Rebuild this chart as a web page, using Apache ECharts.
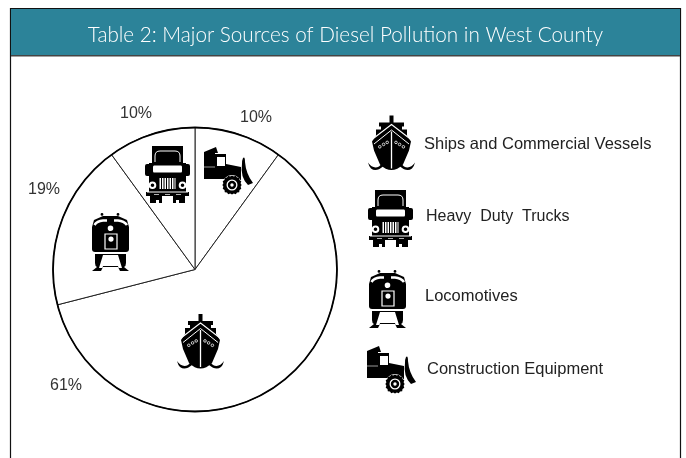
<!DOCTYPE html>
<html>
<head>
<meta charset="utf-8">
<title>Table 2</title>
<script src="https://cdn.jsdelivr.net/npm/echarts@6/dist/echarts.min.js"></script>
<style>
  html, body { margin: 0; padding: 0; background: #fff; }
  #chart { width: 686px; height: 458px; }
</style>
</head>
<body>
<div id="chart"></div>
<script>
const titleText = 'Table 2: Major Sources of Diesel Pollution in West County'
// clockwise from 12 o'clock
const categories = ['Construction Equipment', 'Ships and Commercial Vessels', 'Locomotives', 'Heavy Duty Trucks']
const shares = [10, 61, 19, 10]
const labelSpots = [[256, 118], [66, 386], [44, 190], [136, 114]]

// icon drawings, local px: [path, fill, stroke, strokeWidth]
const W = '#fff', K = '#000'
const shipIcon = [
  ['M21.5 0H25.5V7H36V11H34V14H39V20L43 26L41 35L35 49Q23.5 60 12 49L6 35L4 26L8 20V14H13V11H11V7H21.5Z', K],
  ['M0 47Q5 54 11 51L14 48L15 51Q8 57 3 53Q1 51 0 47ZM47 47Q42 54 36 51L33 48L32 51Q39 57 44 53Q46 51 47 47Z', K],
  ['M4 24L23.5 9L43 24', null, W, 1.1],
  ['M6 28.5L23.5 14.5L41 28.5', null, W, 1],
  ['M23.5 16V53', null, W, 1.3],
  ['M11.8 30a1.3 1.3 0 1 1 -0.01 0M15.6 27.6a1.3 1.3 0 1 1 -0.01 0M19.2 25.6a1.3 1.3 0 1 1 -0.01 0M28 25.6a1.3 1.3 0 1 1 -0.01 0M31.6 27.6a1.3 1.3 0 1 1 -0.01 0M35.4 30a1.3 1.3 0 1 1 -0.01 0', null, W, 0.8]
]
const truckIcon = [
  ['M7 0H38V17H41V46H44V50H40V57H34V54H31V57H28V50H17V57H14V54H11V57H5V50H1V46H4V17H7Z', K],
  ['M0 20Q0 18 2 18H4V30H2Q0 30 0 28ZM45 20Q45 18 43 18H41V30H43Q45 30 45 28Z', K],
  ['M10 16V10Q10 5 15 5H30Q35 5 35 10V16', null, W, 1],
  ['M9 19.5H36Q37 19.5 37 21V25Q37 26.5 36 26.5H9Q8 26.5 8 25V21Q8 19.5 9 19.5Z', W],
  ['M14.5 32H30.5V43H14.5Z', W],
  ['M16.5 32V43M19 32V43M21.5 32V43M24 32V43M26.5 32V43M29 32V43', null, K, 1],
  ['M7.5 35.5a3.8 3.8 0 1 1 -0.01 0M37.5 35.5a3.8 3.8 0 1 1 -0.01 0', W],
  ['M7.5 37.5a1.8 1.8 0 1 1 -0.01 0M37.5 37.5a1.8 1.8 0 1 1 -0.01 0', K],
  ['M2 46H43', null, W, 1],
  ['M9 48.5H14M20 48.5H25M31 48.5H36', null, W, 0.7]
]
const locoIcon = [
  ['M10 0a1.4 1.4 0 1 1 -0.01 0M26 0a1.4 1.4 0 1 1 -0.01 0', K],
  ['M11 3H26L35 7L37 14V36Q37 39 34 39H3Q0 39 0 36V14L2 7Z', K],
  ['M2.5 12Q5 8 11 7.5H15M35 12Q32 8 26 7.5H22', null, W, 2.6],
  ['M13 21H25V36H13Z', null, W, 1.2],
  ['M18.5 12.5a2.8 2.8 0 1 1 -0.01 0M19 23.5a2.6 2.6 0 1 1 -0.01 0', W],
  ['M3 41H34V50Q34 53 32 54L37 58H28L26 54H11L9 58H0L5 54Q3 53 3 50Z', K],
  ['M11 42H26L30 55H26.5L26 53H11L10.5 55H7Z', W]
]
const plowIcon = [
  ['M0 5L12 0L14 6H11V32H0Z', K],
  ['M11 7H22V17L37 20V33H22V32H11Z', K],
  ['M13 10H21V19H13Z', W],
  ['M0 20H11', null, '#999', 1],
  ['M39 11Q41 9 41 15Q42 27 49 36L44 38Q36 30 38 17Q38 13 39 11Z', K],
  ['M28 28a10 10 0 1 1 -0.01 0', W],
  ['M28 28.5l1.8 1l2-0.7l1.2 1.8l2.2 0.2l0.3 2.2l1.8 1.2l-0.7 2l1 1.8l-1 1.8l0.7 2l-1.8 1.2l-0.3 2.2l-2.2 0.2l-1.2 1.8l-2 -0.7l-1.8 1l-1.8 -1l-2 0.7l-1.2 -1.8l-2.2 -0.2l-0.3 -2.2l-1.8 -1.2l0.7 -2l-1 -1.8l1 -1.8l-0.7 -2l1.8 -1.2l0.3 -2.2l2.2 -0.2l1.2 -1.8l2 0.7Z', K],
  ['M28 32.5a5.5 5.5 0 1 1 -0.01 0', W],
  ['M28 33.8a4.2 4.2 0 1 1 -0.01 0', K],
  ['M28 36.3a1.7 1.7 0 1 1 -0.01 0', W]
]

// echarts has no plain "path" graphic, so each icon part becomes a registered shape
let shapeCount = 0
function drawIcon(parts, x, y) {
  return {
    type: 'group', x: x, y: y, silent: true,
    children: parts.map(function (p) {
      const name = 'iconPart' + (shapeCount++)
      echarts.graphic.registerShape(name, echarts.graphic.extendPath(p[0], {}))
      return {
        type: name,
        z: 20,
        style: { fill: p[1] || 'none', stroke: p[2] || 'none', lineWidth: p[3] || 0 }
      }
    })
  }
}

function legendText(text, x, y, size) {
  return {
    type: 'text', x: x, y: y, z: 20,
    style: {
      text: text, fill: '#222', fontFamily: '"Liberation Sans", Arial, sans-serif', fontSize: size || 16.5,
      verticalAlign: 'middle', textAlign: 'left'
    }
  }
}

const myChart = echarts.init(document.getElementById('chart'))
myChart.setOption({
  animation: false,
  backgroundColor: '#fff',
  title: {
    text: titleText,
    left: 340.5,
    top: 30,
    textAlign: 'center',
    textVerticalAlign: 'middle',
    textStyle: { color: '#fff', fontFamily: 'Lato', fontWeight: 300, fontSize: 20.7 }
  },
  series: [{
    type: 'pie',
    center: [195, 269.5],
    radius: [0, 142],
    startAngle: 90,
    clockwise: true,
    silent: true,
    avoidLabelOverlap: false,
    itemStyle: { color: '#fff', borderColor: '#222', borderWidth: 1 },
    label: {
      show: true,
      formatter: '{c}%',
      color: '#333',
      fontFamily: '"Liberation Sans", Arial, sans-serif',
      fontSize: 16
    },
    labelLine: { show: false },
    labelLayout: function (params) {
      const spot = labelSpots[params.dataIndex]
      return { x: spot[0], y: spot[1], align: 'center', verticalAlign: 'middle', hideOverlap: false }
    },
    emphasis: { disabled: true },
    data: categories.map(function (name, i) {
      return { name: name, value: shares[i] }
    })
  }],
  graphic: { elements: [
    // panel + header band
    { type: 'rect', z: -2, shape: { x: 10.5, y: 8.5, width: 670, height: 470 }, style: { fill: '#fff', stroke: '#111', lineWidth: 1.2 } },
    { type: 'rect', z: -1, shape: { x: 11, y: 9, width: 669, height: 46 }, style: { fill: '#2c8399' } },
    { type: 'rect', z: -1, shape: { x: 11, y: 55, width: 669, height: 1.5 }, style: { fill: '#444' } },
    // heavier pie rim
    { type: 'circle', z: 10, silent: true, shape: { cx: 195, cy: 269.5, r: 142 }, style: { fill: 'none', stroke: '#000', lineWidth: 1.8 } },
    // icons in the slices
    drawIcon(plowIcon, 204, 147),
    drawIcon(truckIcon, 145, 146),
    drawIcon(locoIcon, 92, 213),
    drawIcon(shipIcon, 177, 314),
    // legend
    drawIcon(shipIcon, 368, 115.5),
    drawIcon(truckIcon, 368, 190),
    drawIcon(locoIcon, 369, 270),
    drawIcon(plowIcon, 367, 346),
    legendText(categories[1], 424, 144.5),
    legendText('Heavy  Duty  Trucks', 426, 217, 16),
    legendText(categories[2], 425, 296.5),
    legendText(categories[0], 427, 369.5)
  ] }
})
</script>
</body>
</html>
